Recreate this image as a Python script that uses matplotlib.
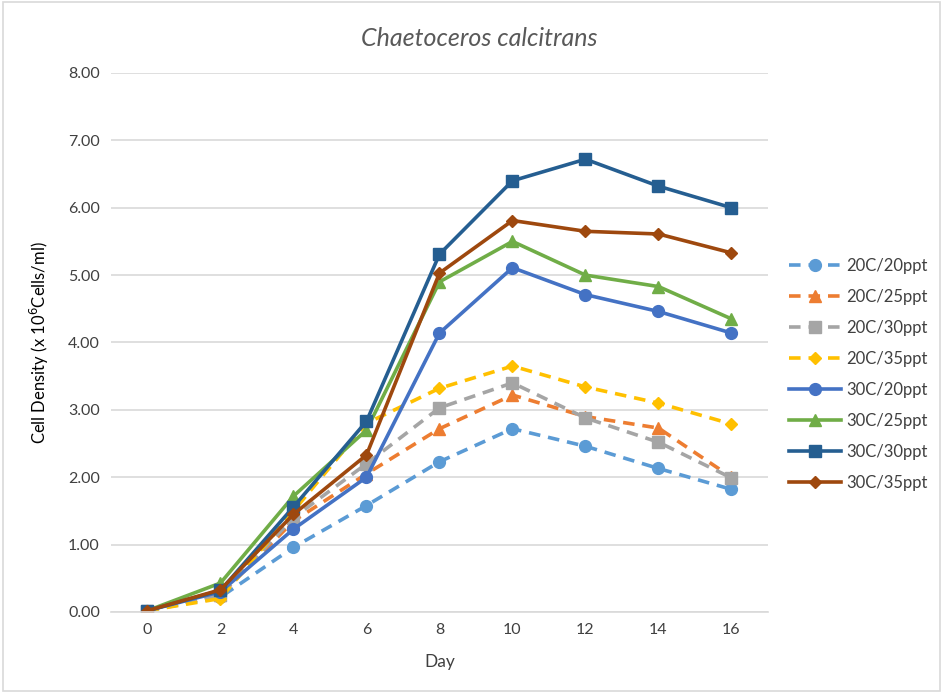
import matplotlib
matplotlib.use("Agg")
import matplotlib.pyplot as plt
from matplotlib.patches import Rectangle

plt.rcParams['font.family'] = ['Lato', 'DejaVu Sans']

days = [0, 2, 4, 6, 8, 10, 12, 14, 16]

labels = ["20C/20ppt", "20C/25ppt", "20C/30ppt", "20C/35ppt",
          "30C/20ppt", "30C/25ppt", "30C/30ppt", "30C/35ppt"]

c20_20 = [0.02, 0.22, 0.96, 1.58, 2.23, 2.72, 2.46, 2.13, 1.82]
c20_25 = [0.02, 0.25, 1.35, 2.05, 2.72, 3.22, 2.90, 2.73, 2.00]
c20_30 = [0.02, 0.25, 1.40, 2.20, 3.03, 3.40, 2.88, 2.52, 1.99]
c20_35 = [0.02, 0.20, 1.50, 2.80, 3.32, 3.65, 3.34, 3.10, 2.79]
c30_20 = [0.02, 0.30, 1.23, 2.00, 4.14, 5.11, 4.71, 4.46, 4.14]
c30_25 = [0.02, 0.43, 1.72, 2.70, 4.90, 5.50, 5.00, 4.83, 4.35]
c30_30 = [0.02, 0.32, 1.56, 2.83, 5.31, 6.40, 6.72, 6.32, 6.00]
c30_35 = [0.02, 0.33, 1.45, 2.33, 5.03, 5.81, 5.65, 5.61, 5.33]

series = [c20_20, c20_25, c20_30, c20_35, c30_20, c30_25, c30_30, c30_35]
colors = ["#5B9BD5", "#ED7D31", "#A5A5A5", "#FFC000",
          "#4472C4", "#70AD47", "#255E91", "#9E480E"]
markers = ["o", "^", "s", "D", "o", "^", "s", "D"]
dashed = [True, True, True, True, False, False, False, False]

fig = plt.figure(figsize=(9.43, 6.93), dpi=100)
ax = fig.add_axes([0.1177, 0.1169, 0.6967, 0.7778])

for ys, lab, col, mk, dsh in zip(series, labels, colors, markers, dashed):
    ms = 8.5 if mk != "D" else 6.5
    line, = ax.plot(days, ys, color=col, marker=mk, markersize=ms, linewidth=2.6,
                    label=lab, markeredgecolor=col)
    if dsh:
        line.set_dashes([3.2, 2.2])

ax.set_xlim(-1, 17)
ax.set_ylim(0, 8)
ax.set_xticks(days)
ax.set_yticks([0, 1, 2, 3, 4, 5, 6, 7, 8])
ax.set_yticklabels([f"{v:.2f}" for v in range(9)])
ax.grid(axis="y", color="#d9d9d9", linewidth=1.2)
ax.set_axisbelow(True)
for s in ["top", "right", "left"]:
    ax.spines[s].set_visible(False)
ax.spines["bottom"].set_color("#d9d9d9")
ax.spines["bottom"].set_linewidth(1.2)
ax.tick_params(axis="both", length=0, labelsize=11.5, labelcolor="#404040", pad=8)

ax.set_xlabel("Day", fontsize=12.5, color="#404040", labelpad=12)
ax.set_ylabel("Cell Density (x 10$^{6}$Cells/ml)", fontsize=12, color="#000000", labelpad=12)
fig.text(0.508, 0.945, "Chaetoceros calcitrans", fontsize=18, style="italic",
         color="#595959", ha="center", va="center")

fig.legend(loc="upper left", bbox_to_anchor=(0.83, 0.637), frameon=False,
           fontsize=12, labelcolor="#404040", handlelength=3.1, labelspacing=0.9,
           handletextpad=0.3, borderaxespad=0)

fig.patches.append(Rectangle((0.003, 0.003), 0.994, 0.994, transform=fig.transFigure,
                             fill=False, edgecolor="#d9d9d9", linewidth=1.2))

fig.savefig("out.png", dpi=100)
